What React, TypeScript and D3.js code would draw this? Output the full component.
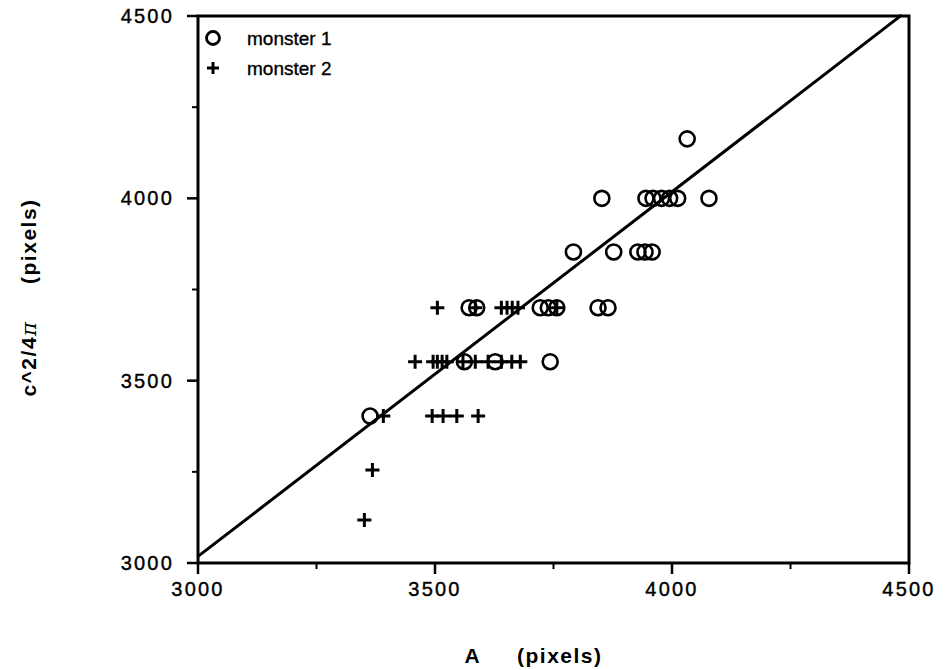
import React from 'react'
import * as d3 from 'd3'

const xTicks = [3000, 3500, 4000, 4500]
const yTicks = [3000, 3500, 4000, 4500]
const minorTicks = [3250, 3750, 4250]

// monster 1 (circles)
const monster1A = [4032, 3852, 3945, 3960, 3978, 3995, 4012, 4078, 3792, 3877, 3928, 3943, 3958, 3572, 3588, 3722, 3739, 3757, 3844, 3865, 3562, 3627, 3743, 3363]
const monster1C = [4163, 4000, 4000, 4000, 4000, 4000, 4000, 4000, 3853, 3853, 3853, 3853, 3853, 3700, 3700, 3700, 3700, 3700, 3700, 3700, 3552, 3552, 3552, 3403]

// monster 2 (crosses)
const monster2A = [3505, 3585, 3640, 3652, 3663, 3675, 3757, 3458, 3496, 3505, 3515, 3525, 3559, 3585, 3612, 3640, 3662, 3680, 3391, 3494, 3517, 3546, 3591, 3368, 3351]
const monster2C = [3700, 3700, 3700, 3700, 3700, 3700, 3700, 3552, 3552, 3552, 3552, 3552, 3552, 3552, 3552, 3552, 3552, 3552, 3403, 3403, 3403, 3403, 3403, 3255, 3118]

// fitted line end points
const lineA = [3000, 4485]
const lineC = [3018, 4503]

const legendLabels = ['monster 1', 'monster 2']

const width = 950
const height = 670
const margin = {top: 16, right: 41, bottom: 107, left: 198}

export default function App() {
    const x = d3.scaleLinear().domain([3000, 4500]).range([margin.left, width - margin.right])
    const y = d3.scaleLinear().domain([3000, 4500]).range([height - margin.bottom, margin.top])

    const x0 = margin.left
    const x1 = width - margin.right
    const y0 = height - margin.bottom
    const y1 = margin.top

    const line = d3.line<number>()
        .x(i => x(lineA[i]))
        .y(i => y(lineC[i]))

    const font = 'Liberation Sans, Arial, sans-serif'
    const tickFont = {fontFamily: font, fontSize: 20, letterSpacing: 2.2, stroke: '#000', strokeWidth: 0.4}

    return (
        <div style={{position: 'absolute', left: 0, top: 0}}>
            <svg width={width} height={height} style={{display: 'block', background: '#fff'}}>
                {/* frame */}
                <rect x={x0} y={y1} width={x1 - x0} height={y0 - y1} fill="none" stroke="#000" strokeWidth={3} />

                {/* x ticks */}
                {xTicks.map(t => (
                    <g key={'xt' + t}>
                        <line x1={x(t)} x2={x(t)} y1={y0} y2={y0 + 11} stroke="#000" strokeWidth={2.5} />
                        <text x={x(t)} y={y0 + 33} textAnchor="middle" {...tickFont}>{t}</text>
                    </g>
                ))}
                {minorTicks.map(t => (
                    <line key={'xm' + t} x1={x(t)} x2={x(t)} y1={y0} y2={y0 + 6} stroke="#000" strokeWidth={2} />
                ))}

                {/* y ticks */}
                {yTicks.map(t => (
                    <g key={'yt' + t}>
                        <line x1={x0 - 11} x2={x0} y1={y(t)} y2={y(t)} stroke="#000" strokeWidth={2.5} />
                        <text x={x0 - 24} y={y(t) + 7} textAnchor="end" {...tickFont}>{t}</text>
                    </g>
                ))}
                {minorTicks.map(t => (
                    <line key={'ym' + t} x1={x0 - 6} x2={x0} y1={y(t)} y2={y(t)} stroke="#000" strokeWidth={2} />
                ))}

                {/* fitted line */}
                <path d={line([0, 1]) || ''} fill="none" stroke="#000" strokeWidth={3} />

                {/* monster 1 */}
                {monster1A.map((a, i) => (
                    <circle key={'m1' + i} cx={x(a)} cy={y(monster1C[i])} r={7.5} fill="none" stroke="#000" strokeWidth={2.6} />
                ))}

                {/* monster 2 */}
                {monster2A.map((a, i) => (
                    <path key={'m2' + i}
                        d={`M${x(a) - 7},${y(monster2C[i])}h14M${x(a)},${y(monster2C[i]) - 7}v14`}
                        stroke="#000" strokeWidth={3} fill="none" />
                ))}

                {/* legend */}
                <circle cx={213} cy={38} r={6.5} fill="none" stroke="#000" strokeWidth={2.8} />
                <path d="M207,68h12M213,62v12" stroke="#000" strokeWidth={3} />
                {legendLabels.map((l, i) => (
                    <text key={l} x={247} y={45 + i * 30} fontFamily={font} fontSize={19}
                        stroke="#000" strokeWidth={0.35}>{l}</text>
                ))}

                {/* axis titles */}
                <text x={(x0 + x1) / 2 - 20} y={663} textAnchor="middle" fontFamily={font}
                    fontSize={21} fontWeight="bold" style={{whiteSpace: 'pre'}} letterSpacing={1.5}>A     (pixels)</text>
                <text transform={`translate(36,${(y0 + y1) / 2 + 8}) rotate(-90)`} textAnchor="middle"
                    fontFamily={font} fontSize={21} fontWeight="bold"
                    style={{whiteSpace: 'pre'}} letterSpacing={1.5}>
                    c^2/4<tspan fontWeight="normal" fontFamily="DejaVu Serif, serif" fontStyle="italic">π</tspan>{'     (pixels)'}
                </text>
            </svg>
        </div>
    )
}
